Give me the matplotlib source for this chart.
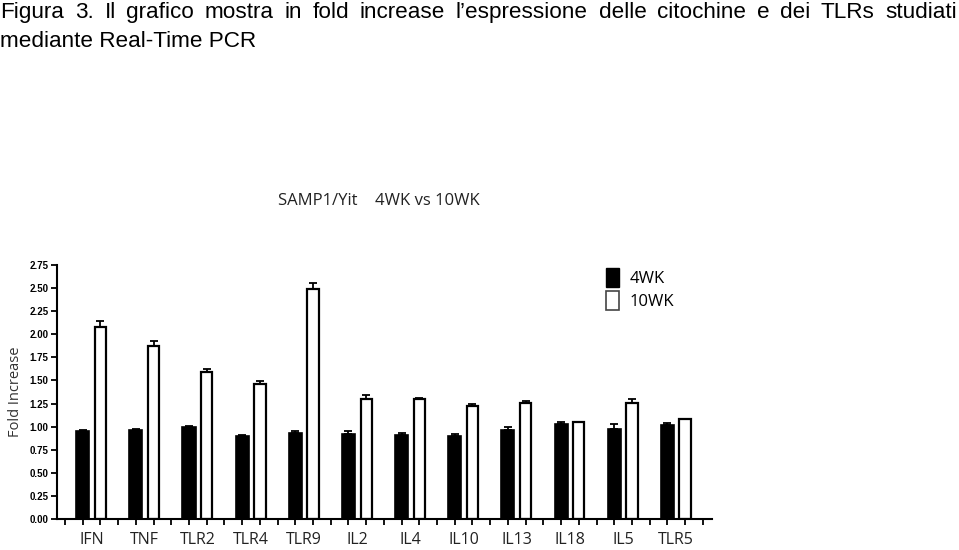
import matplotlib
matplotlib.use("Agg")
import matplotlib.pyplot as plt
import numpy as np
from matplotlib.patches import Patch

categories = ["IFN", "TNF", "TLR2", "TLR4", "TLR9", "IL2", "IL4", "IL10", "IL13", "IL18", "IL5", "TLR5"]
wk4 = [0.95, 0.965, 1.0, 0.90, 0.935, 0.925, 0.91, 0.90, 0.96, 1.03, 0.97, 1.015]
wk4_err = [0.01, 0.005, 0.01, 0.005, 0.015, 0.03, 0.025, 0.025, 0.04, 0.02, 0.055, 0.02]
wk10 = [2.08, 1.875, 1.59, 1.465, 2.49, 1.295, 1.295, 1.22, 1.26, 1.045, 1.255, 1.078]
wk10_err = [0.06, 0.05, 0.03, 0.03, 0.06, 0.05, 0.01, 0.02, 0.02, 0.01, 0.04, 0.005]
yticks = [0.00, 0.25, 0.50, 0.75, 1.00, 1.25, 1.50, 1.75, 2.00, 2.25, 2.50, 2.75]

W, H = 959, 550
fig = plt.figure(figsize=(W / 100, H / 100), dpi=100)
ax = fig.add_axes([57 / W, 1 - 519 / H, (711.7 - 57) / W, (519 - 265) / H])

n = len(categories)
xb = np.arange(n) * 3.0
xw = xb + 1.0
bw = 0.74

ax.bar(xb, wk4, width=bw, color="black", edgecolor="black", linewidth=1.2, zorder=2,
       yerr=[np.zeros(n), wk4_err], error_kw=dict(ecolor="black", elinewidth=1.3, capsize=3.2, capthick=1.3))
ax.bar(xw, wk10, width=bw - 0.1, color="white", edgecolor="black", linewidth=1.6, zorder=2,
       yerr=[np.zeros(n), wk10_err], error_kw=dict(ecolor="black", elinewidth=1.3, capsize=3.2, capthick=1.3))

ax.set_xlim(-1.45, 35.5)
ax.set_ylim(0, 2.75)
ax.set_yticks(yticks)
ax.set_yticklabels([f"{v:.2f}" for v in yticks], fontsize=7, fontweight="bold", family="Liberation Sans")
ax.set_xticks(np.arange(-1, 36))
ax.set_xticklabels([])
ax.tick_params(axis="both", direction="out", length=4, width=1.3, color="black")
ax.tick_params(axis="y", pad=2)
for s in ["top", "right"]:
    ax.spines[s].set_visible(False)
for s in ["left", "bottom"]:
    ax.spines[s].set_linewidth(1.5)

for i, c in enumerate(categories):
    ax.text(xb[i] + 0.5, -0.225, c, ha="center", va="center", fontsize=11.5,
            family="Open Sans", color="#222222", clip_on=False)

ax.set_ylabel("Fold Increase", fontsize=10.5, family="Open Sans", color="#333333")
ax.yaxis.set_label_coords((23 - 57) / 654.7, 0.5)

handles = [Patch(facecolor="black", edgecolor="black", label="4WK"),
           Patch(facecolor="white", edgecolor="#444444", linewidth=1.2, label="10WK")]
leg = fig.legend(handles=handles, loc="upper left", bbox_to_anchor=(591 / W, 1 - 253 / H),
                 frameon=False, prop=dict(family="Open Sans", size=12),
                 handlelength=0.8, handleheight=1.4, handletextpad=0.6, labelspacing=0.2)

fig.text(379 / W, 1 - 201 / H, "SAMP1/Yit    4WK vs 10WK", ha="center", va="center",
         fontsize=12, family="Open Sans", color="#222222")

# header, first line justified to full width
line1 = "Figura 3. Il grafico mostra in fold increase l\u2019espressione delle citochine e dei TLRs studiati"
hdr_size = 16.2
words = line1.split(" ")
fig.canvas.draw()
renderer = fig.canvas.get_renderer()
tmp = [fig.text(0, 0, w, fontsize=hdr_size, family="Liberation Sans") for w in words]
widths = [t.get_window_extent(renderer).width for t in tmp]
for t in tmp:
    t.remove()
x0, x1 = 0.5, 957
gap = (x1 - x0 - sum(widths)) / (len(words) - 1)
x = x0
for w, wd in zip(words, widths):
    fig.text(x / W, 1 - 18 / H, w, ha="left", va="baseline", fontsize=hdr_size, family="Liberation Sans")
    x += wd + gap
fig.text(0.5 / W, 1 - 47 / H, "mediante Real-Time PCR", ha="left", va="baseline", fontsize=hdr_size, family="Liberation Sans")

fig.savefig("out.png", dpi=100)
